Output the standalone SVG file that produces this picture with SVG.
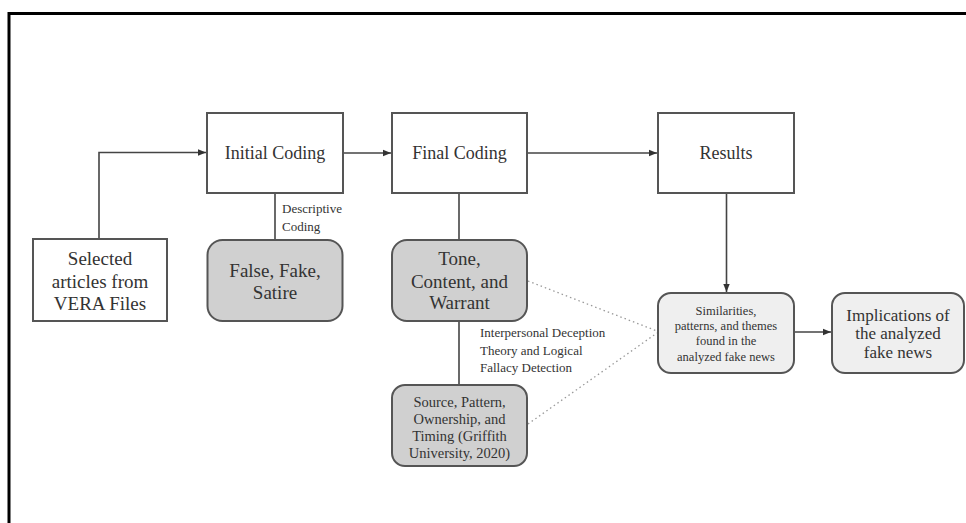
<svg xmlns="http://www.w3.org/2000/svg" width="966" height="523" viewBox="0 0 966 523">
<style>
text{font-family:'Liberation Serif','DejaVu Serif',serif;fill:#333;text-anchor:middle}
.box{fill:#fff;stroke:#555;stroke-width:2}
.dark{fill:#d0d0d0;stroke:#555;stroke-width:2}
.light{fill:#efefef;stroke:#555;stroke-width:2}
.ln{fill:none;stroke:#444;stroke-width:1.6}
.dot{fill:none;stroke:#999;stroke-width:1.3;stroke-dasharray:1.5 3}
.lbl{text-anchor:start;font-size:13px}
</style>
<defs>
<marker id="ah2" viewBox="0 0 10 10" refX="10" refY="5" markerWidth="8" markerHeight="8" orient="auto" markerUnits="userSpaceOnUse">
<path d="M0,1 L10,5 L0,9 z" fill="#333"/>
</marker>
</defs>
<rect width="966" height="523" fill="#fff"/>
<path d="M9,523 V13.5 H966" fill="none" stroke="#000" stroke-width="3"/>
<g id="connectors">
<path class="ln" d="M99,239 V152.5 H206" marker-end="url(#ah2)"/>
<path class="ln" d="M343,153 H391" marker-end="url(#ah2)"/>
<path class="ln" d="M527,153 H657" marker-end="url(#ah2)"/>
<path class="ln" d="M275,193 V240"/>
<path class="ln" d="M459,193 V240"/>
<path class="ln" d="M459,321 V385"/>
<path class="ln" d="M726.5,193 V292" marker-end="url(#ah2)"/>
<path class="ln" d="M794,332 H831" marker-end="url(#ah2)"/>
<path class="dot" d="M528,281 L657,331"/>
<path class="dot" d="M528,424 L657,333"/>
<text class="lbl" x="282" y="213">Descriptive</text>
<text class="lbl" x="282" y="231">Coding</text>
<text class="lbl" x="480" y="337">Interpersonal Deception</text>
<text class="lbl" x="480" y="355">Theory and Logical</text>
<text class="lbl" x="480" y="372">Fallacy Detection</text>
</g>
<g id="selected">
<rect class="box" x="33" y="239" width="134" height="82"/>
<text font-size="19" x="100" y="265">Selected</text>
<text font-size="19" x="100" y="288">articles from</text>
<text font-size="19" x="100" y="310">VERA Files</text>
</g>
<g id="initial">
<rect class="box" x="207" y="113" width="136" height="80"/>
<text font-size="18" x="275" y="159">Initial Coding</text>
</g>
<g id="final">
<rect class="box" x="392" y="113" width="135" height="80"/>
<text font-size="18" x="459.5" y="159">Final Coding</text>
</g>
<g id="results">
<rect class="box" x="658" y="113" width="136" height="80"/>
<text font-size="18" x="726" y="159">Results</text>
</g>
<g id="falsefake">
<rect class="dark" x="207.5" y="240" width="135" height="81" rx="15"/>
<text font-size="19" x="275" y="277">False, Fake,</text>
<text font-size="19" x="275" y="299">Satire</text>
</g>
<g id="tone">
<rect class="dark" x="392" y="240" width="135" height="81" rx="15"/>
<text font-size="19" x="459.5" y="265">Tone,</text>
<text font-size="19" x="459.5" y="288">Content, and</text>
<text font-size="19" x="459.5" y="309">Warrant</text>
</g>
<g id="source">
<rect class="dark" x="392" y="385" width="135" height="81" rx="13"/>
<text font-size="14.5" x="459.5" y="407">Source, Pattern,</text>
<text font-size="14.5" x="459.5" y="424">Ownership, and</text>
<text font-size="14.5" x="459.5" y="441">Timing (Griffith</text>
<text font-size="14.5" x="459.5" y="458">University, 2020)</text>
</g>
<g id="similarities">
<rect class="light" x="658" y="293" width="136" height="80" rx="13"/>
<text font-size="12.5" x="726" y="315">Similarities,</text>
<text font-size="12.5" x="726" y="330">patterns, and themes</text>
<text font-size="12.5" x="726" y="345">found in the</text>
<text font-size="12.5" x="726" y="361">analyzed fake news</text>
</g>
<g id="implications">
<rect class="light" x="832" y="293" width="132" height="80" rx="13"/>
<text font-size="17" x="898" y="321">Implications of</text>
<text font-size="17" x="898" y="339">the analyzed</text>
<text font-size="17" x="898" y="358">fake news</text>
</g>
</svg>
